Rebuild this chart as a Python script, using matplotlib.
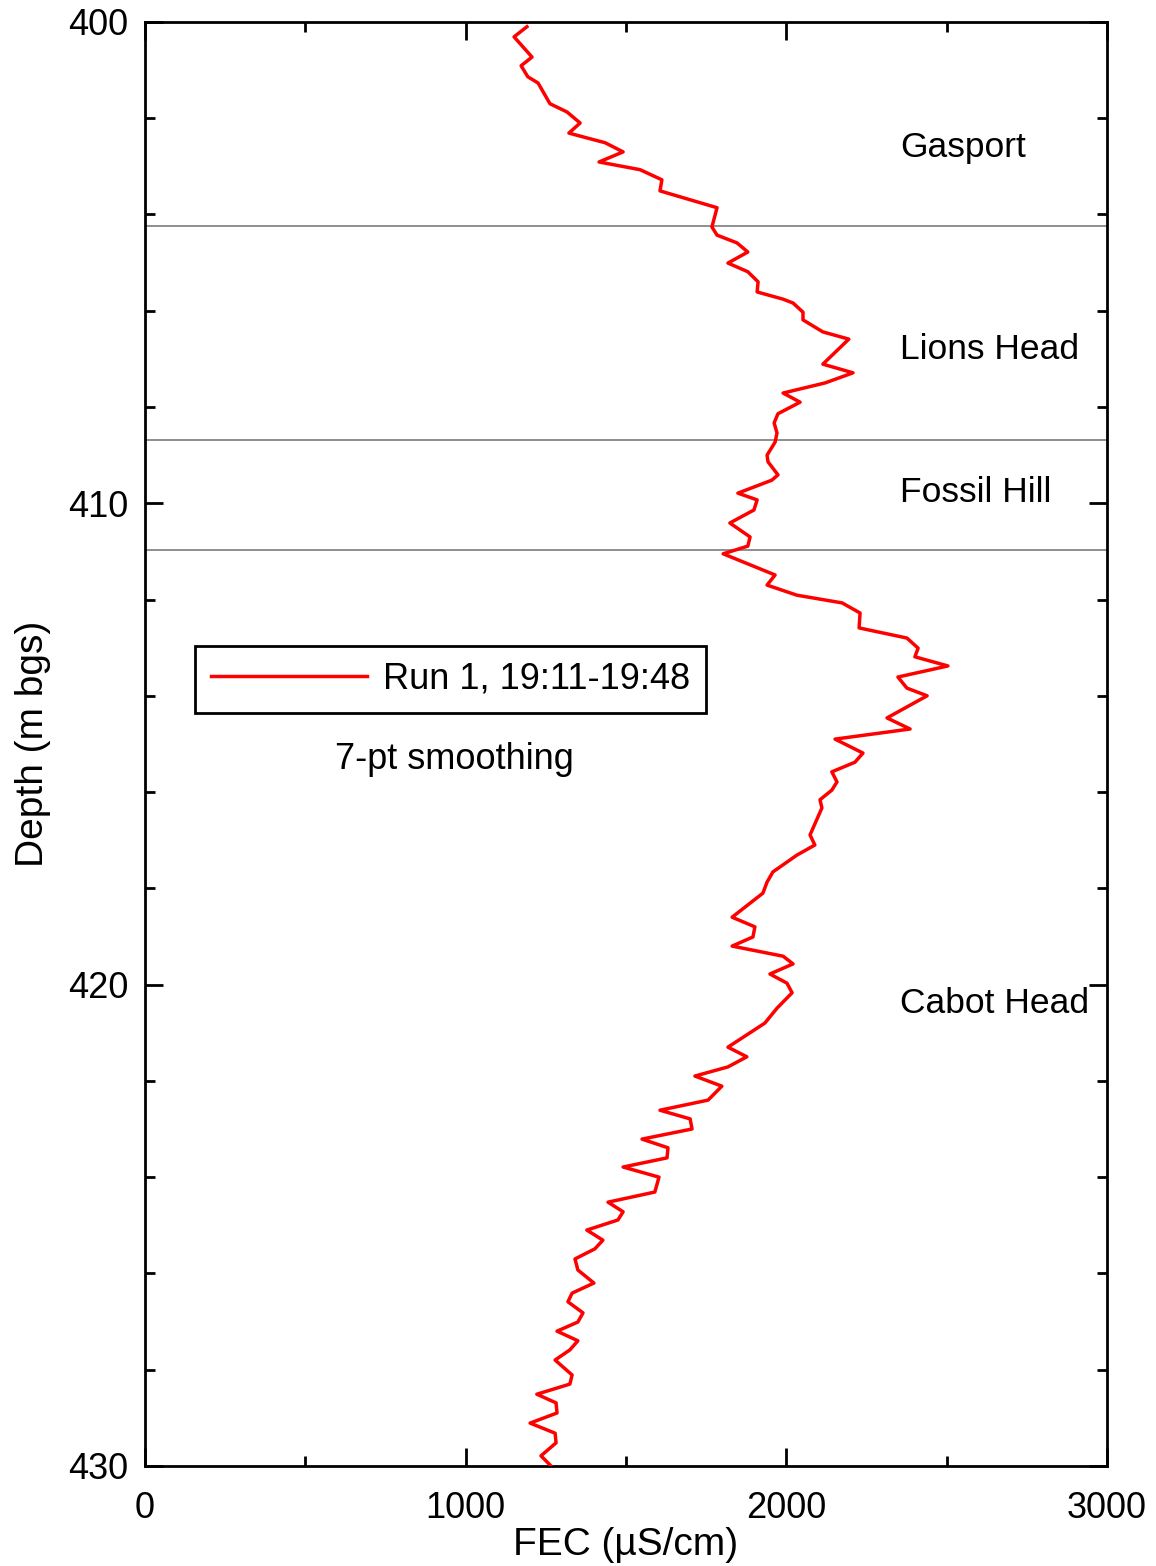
import matplotlib
matplotlib.use('Agg')
import matplotlib.pyplot as plt
from matplotlib.ticker import MultipleLocator

plt.rcParams['font.family'] = ['Liberation Sans', 'DejaVu Sans']

# FEC log, run 1 (7-pt smoothed), depth in m bgs
depth = [400.10, 400.31, 400.73, 400.91, 401.14, 401.27, 401.70, 401.87, 402.10, 402.31,
         402.51, 402.70, 402.91, 403.07, 403.28, 403.51, 403.86, 404.26, 404.43, 404.59,
         404.78, 405.01, 405.19, 405.40, 405.61, 405.76, 405.84, 406.03, 406.19, 406.44,
         406.59, 407.11, 407.29, 407.50, 407.71, 407.90, 408.14, 408.33, 408.54, 408.73,
         409.00, 409.14, 409.41, 409.52, 409.79, 409.93, 410.14, 410.41, 410.70, 410.89,
         411.05, 411.49, 411.70, 411.91, 412.07, 412.28, 412.59, 412.80, 413.01, 413.19,
         413.38, 413.61, 413.84, 414.00, 414.46, 414.69, 414.90, 415.19, 415.38, 415.58,
         415.79, 415.96, 416.16, 416.33, 416.89, 417.10, 417.31, 417.66, 417.87, 418.10,
         418.60, 418.80, 419.01, 419.20, 419.41, 419.57, 419.78, 419.97, 420.17, 420.49,
         420.80, 421.30, 421.50, 421.71, 421.90, 422.11, 422.40, 422.61, 422.79, 423.00,
         423.21, 423.39, 423.60, 423.79, 424.00, 424.31, 424.52, 424.72, 424.89, 425.10,
         425.31, 425.49, 425.70, 425.93, 426.20, 426.41, 426.59, 426.82, 427.01, 427.20,
         427.40, 427.59, 427.80, 428.11, 428.30, 428.51, 428.69, 428.90, 429.11, 429.32,
         429.52, 429.79, 430.02]
fec = [1191, 1151, 1207, 1173, 1194, 1226, 1263, 1316, 1357, 1322,
       1435, 1491, 1416, 1544, 1612, 1606, 1784, 1768, 1784, 1846,
       1880, 1818, 1880, 1912, 1909, 1990, 2021, 2052, 2052, 2114,
       2195, 2114, 2208, 2121, 1990, 2043, 1974, 1962, 1971, 1965,
       1940, 1943, 1974, 1955, 1849, 1909, 1899, 1824, 1887, 1880,
       1803, 1965, 1940, 2033, 2174, 2230, 2227, 2376, 2411, 2401,
       2504, 2348, 2376, 2439, 2314, 2386, 2152, 2239, 2214, 2142,
       2158, 2142, 2105, 2111, 2074, 2089, 2033, 1958, 1940, 1927,
       1831, 1902, 1896, 1831, 1990, 2021, 1949, 2002, 2018, 1971,
       1933, 1818, 1877, 1818, 1715, 1799, 1756, 1606, 1700, 1706,
       1550, 1631, 1628, 1491, 1603, 1590, 1444, 1491, 1475, 1378,
       1428, 1403, 1341, 1350, 1400, 1332, 1319, 1366, 1350, 1285,
       1350, 1325, 1279, 1332, 1325, 1222, 1282, 1285, 1201, 1279,
       1282, 1235, 1269]

# formation contacts and names
contacts = [404.25, 408.68, 410.97]
formations = ['Gasport', 'Lions Head', 'Fossil Hill', 'Cabot Head']
formation_depth = [402.6, 406.8, 409.77, 420.4]
label_fec = 2354

fig = plt.figure(figsize=(11.56, 15.66), dpi=100)
ax = fig.add_axes([0.1254, 0.0639, 0.8322, 0.9221])

for c in contacts:
    ax.axhline(c, color='#707070', lw=1.1, zorder=1)

ax.plot(fec, depth, color='#ff0000', lw=2.5, label='Run 1, 19:11-19:48', zorder=3)

for name, d in zip(formations, formation_depth):
    ax.text(label_fec, d, name, fontsize=25.5, va='center', ha='left')

ax.set_xlim(0, 3000)
ax.set_ylim(430, 400)
ax.xaxis.set_major_locator(MultipleLocator(1000))
ax.xaxis.set_minor_locator(MultipleLocator(500))
ax.yaxis.set_major_locator(MultipleLocator(10))
ax.yaxis.set_minor_locator(MultipleLocator(2))

ax.tick_params(which='both', direction='in', top=True, right=True, width=2, labelsize=26)
ax.tick_params(which='major', length=13)
ax.tick_params(which='minor', length=7)
ax.tick_params(axis='x', pad=18)
ax.tick_params(axis='y', pad=12)
for s in ax.spines.values():
    s.set_linewidth(2)

ax.set_xlabel('FEC (µS/cm)', fontsize=28, labelpad=1)
ax.set_ylabel('Depth (m bgs)', fontsize=28, labelpad=12)

leg = ax.legend(loc='upper left', bbox_to_anchor=(0.052, 0.568), borderaxespad=0,
                fontsize=26, handlelength=4.3, fancybox=False, framealpha=1,
                edgecolor='black', borderpad=0.45, handletextpad=0.45)
leg.get_frame().set_linewidth(2)

ax.text(0.322, 0.489, '7-pt smoothing', transform=ax.transAxes, fontsize=26,
        ha='center', va='center')

fig.savefig('out.png', dpi=100)
